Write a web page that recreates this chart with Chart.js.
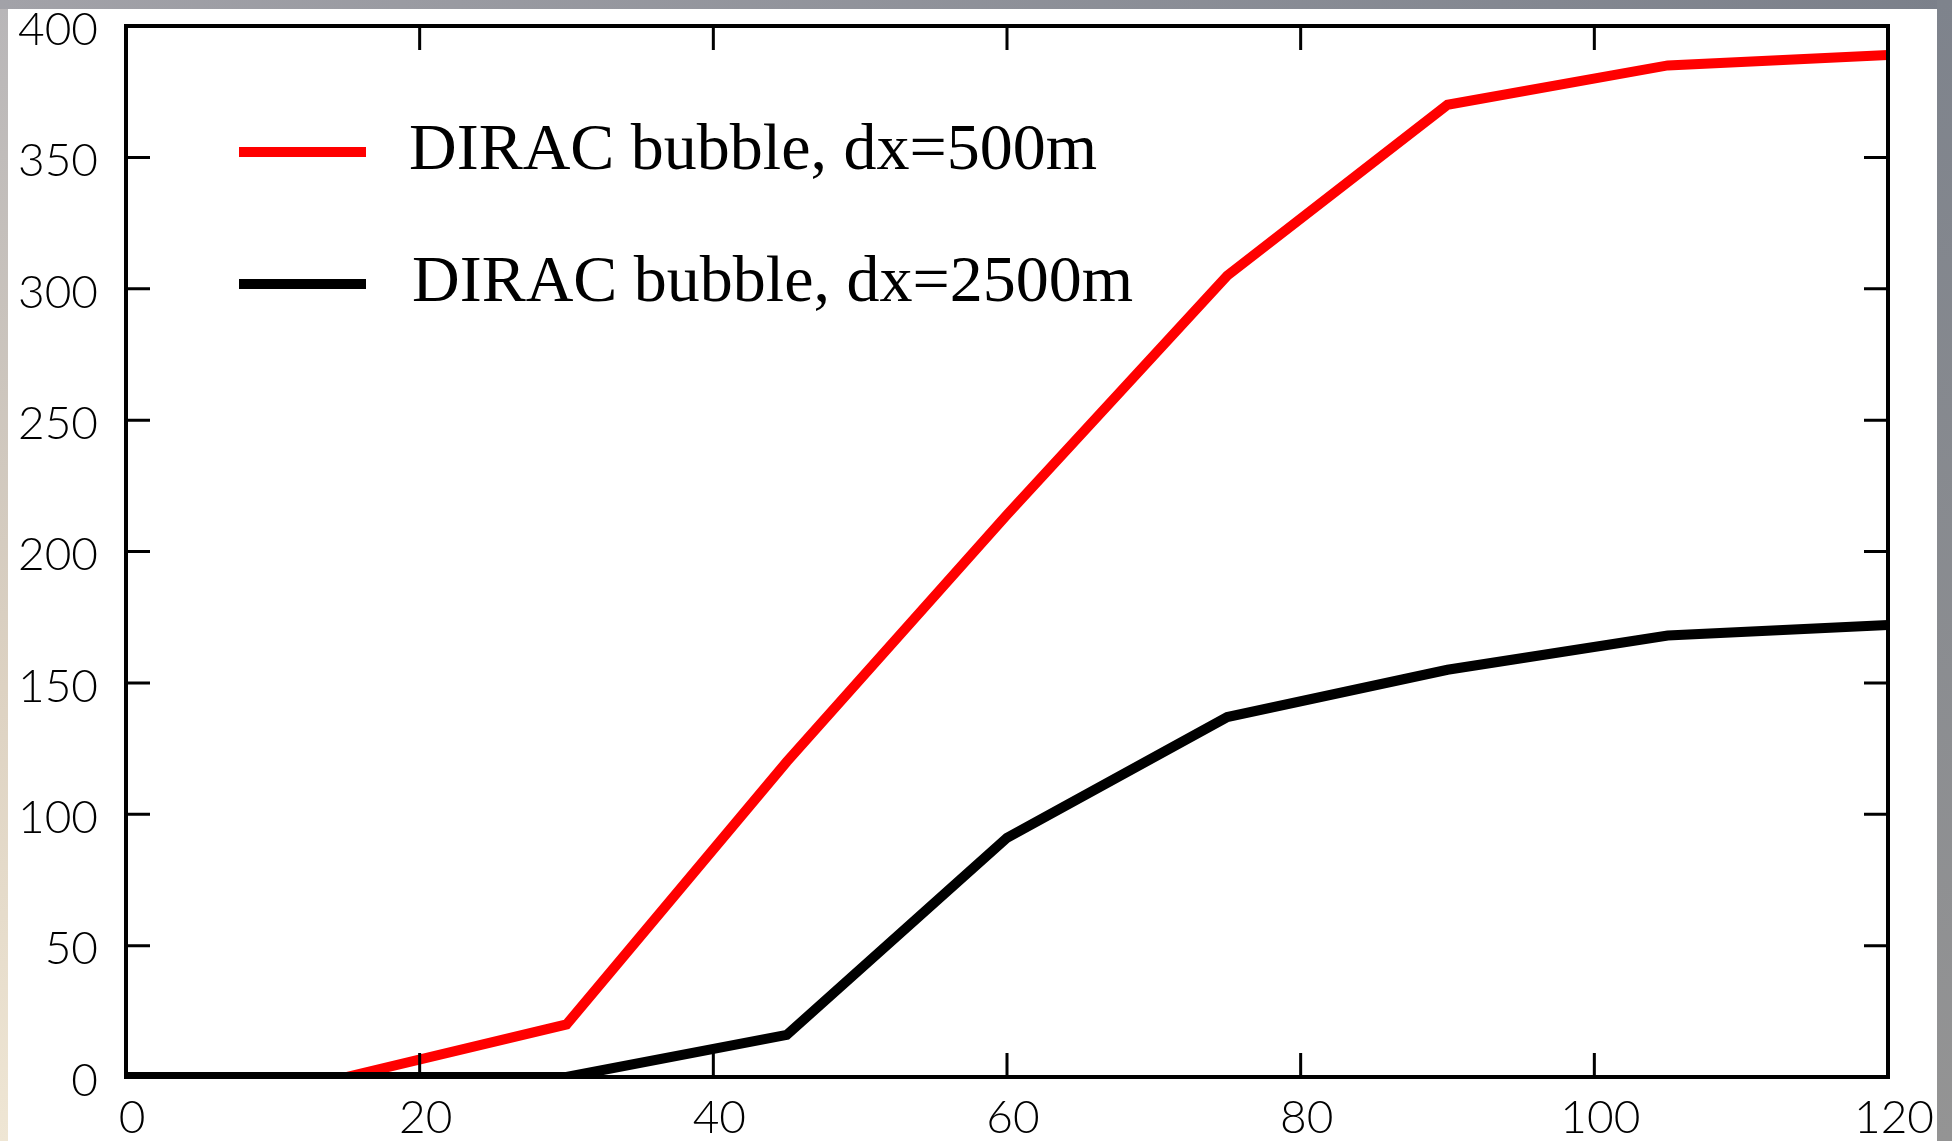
<!DOCTYPE html>
<html>
<head>
    <title>DIRAC bubble</title>
    <!-- Chart.js from CDN -->
    <script src="https://cdn.jsdelivr.net/npm/chart.js"></script>
    <style>
        html, body { margin: 0; padding: 0; }
        body {
            width: 1952px; height: 1141px; overflow: hidden; position: relative;
            background: linear-gradient(to right, #a2a2a8, #7b808a);
        }
        #leftStrip {
            position: absolute; left: 0; top: 9px; width: 8px; height: 1132px;
            background: linear-gradient(to bottom, #b8b6b8, #ddd2c2 60%, #efe6d4);
        }
        #rightStrip {
            position: absolute; left: 1937px; top: 0; width: 15px; height: 1141px;
            background: linear-gradient(to bottom, #7e838c, #949494);
        }
        .chart-container {
            position: absolute; left: 8px; top: 9px; width: 1929px; height: 1132px;
            background: #ffffff;
        }
    </style>
</head>
<body>
    <div id="leftStrip"></div>
    <div id="rightStrip"></div>
    <div class="chart-container">
        <canvas id="bubbleChart"></canvas>
    </div>
    <script>
        // x positions of the samples
        const xValues = [0, 15, 30, 45, 60, 75, 90, 105, 120];
        // series
        const dx500 = [0, 0, 20, 120, 214, 305, 370, 385, 389];
        const dx2500 = [0, 0, 0, 16, 91, 137, 155, 168, 172];
        const seriesLabels = ['DIRAC bubble, dx=500m', 'DIRAC bubble, dx=2500m'];
        const xTicks = [0, 20, 40, 60, 80, 100, 120];
        const yTicks = [0, 50, 100, 150, 200, 250, 300, 350, 400];

        function toPoints(ys) {
            return xValues.map(function(x, i) { return { x: x, y: ys[i] }; });
        }

        // frame round the plot area with inward tick marks on all four sides
        const framePlugin = {
            id: 'frame',
            afterDatasetsDraw: function(chart) {
                const ctx = chart.ctx;
                const a = chart.chartArea;
                const xs = chart.scales.x, ys = chart.scales.y;
                const len = 24;
                ctx.save();
                ctx.strokeStyle = '#000';
                ctx.lineWidth = 4;
                ctx.lineCap = 'butt';
                ctx.strokeRect(a.left, a.top, a.right - a.left, a.bottom - a.top);
                ctx.lineWidth = 3;
                ctx.beginPath();
                xTicks.forEach(function(v) {
                    const px = xs.getPixelForValue(v);
                    ctx.moveTo(px, a.bottom); ctx.lineTo(px, a.bottom - len);
                    ctx.moveTo(px, a.top); ctx.lineTo(px, a.top + len);
                });
                yTicks.forEach(function(v) {
                    const py = ys.getPixelForValue(v);
                    ctx.moveTo(a.left, py); ctx.lineTo(a.left + len, py);
                    ctx.moveTo(a.right, py); ctx.lineTo(a.right - len, py);
                });
                ctx.stroke();

                // legend, drawn inside the plot
                chart.data.datasets.forEach(function(ds, i) {
                    const row = 143 + i * 132;
                    ctx.beginPath();
                    ctx.strokeStyle = ds.borderColor;
                    ctx.lineWidth = 10;
                    ctx.moveTo(231, row);
                    ctx.lineTo(358, row);
                    ctx.stroke();
                    ctx.fillStyle = '#000';
                    ctx.font = '66px "Liberation Serif", "Times New Roman", serif';
                    ctx.textAlign = 'left';
                    ctx.textBaseline = 'alphabetic';
                    ctx.fillText(ds.label, 401 + i * 3, row + 17);
                });
                ctx.restore();
            }
        };

        const tickFont = { family: 'Lato, "Liberation Sans", sans-serif', size: 46, weight: 300 };

        const ctx = document.getElementById('bubbleChart').getContext('2d');
        const bubbleChart = new Chart(ctx, {
            type: 'line',
            data: {
                datasets: [
                    {
                        label: seriesLabels[0],
                        data: toPoints(dx500),
                        borderColor: '#ff0000',
                        borderWidth: 10,
                        pointRadius: 0,
                        tension: 0,
                        fill: false,
                        order: 1
                    },
                    {
                        label: seriesLabels[1],
                        data: toPoints(dx2500),
                        borderColor: '#000000',
                        borderWidth: 10,
                        pointRadius: 0,
                        tension: 0,
                        fill: false,
                        order: 0
                    }
                ]
            },
            options: {
                responsive: true,
                maintainAspectRatio: false,
                animation: false,
                layout: { padding: { top: 17, right: 49, bottom: 0, left: 0 } },
                plugins: {
                    legend: { display: false },
                    tooltip: { enabled: false }
                },
                scales: {
                    x: {
                        type: 'linear',
                        min: 0,
                        max: 120,
                        afterFit: function(scale) {
                            scale.height = 64;
                            scale.paddingLeft = 0;
                            scale.paddingRight = 0;
                        },
                        afterBuildTicks: function(scale) {
                            scale.ticks = xTicks.map(function(v) { return { value: v }; });
                        },
                        grid: { display: false, drawTicks: false },
                        border: { display: false },
                        ticks: {
                            color: '#000',
                            font: tickFont,
                            padding: 14,
                            labelOffset: 6,
                            maxRotation: 0,
                            autoSkip: false
                        }
                    },
                    y: {
                        type: 'linear',
                        min: 0,
                        max: 400,
                        afterFit: function(scale) {
                            scale.width = 118;
                            scale.paddingTop = 0;
                            scale.paddingBottom = 0;
                        },
                        afterBuildTicks: function(scale) {
                            scale.ticks = yTicks.map(function(v) { return { value: v }; });
                        },
                        grid: { display: false, drawTicks: false },
                        border: { display: false },
                        ticks: {
                            color: '#000',
                            font: tickFont,
                            padding: 28,
                            labelOffset: 4,
                            autoSkip: false
                        }
                    }
                }
            },
            plugins: [framePlugin]
        });
    </script>
</body>
</html>
